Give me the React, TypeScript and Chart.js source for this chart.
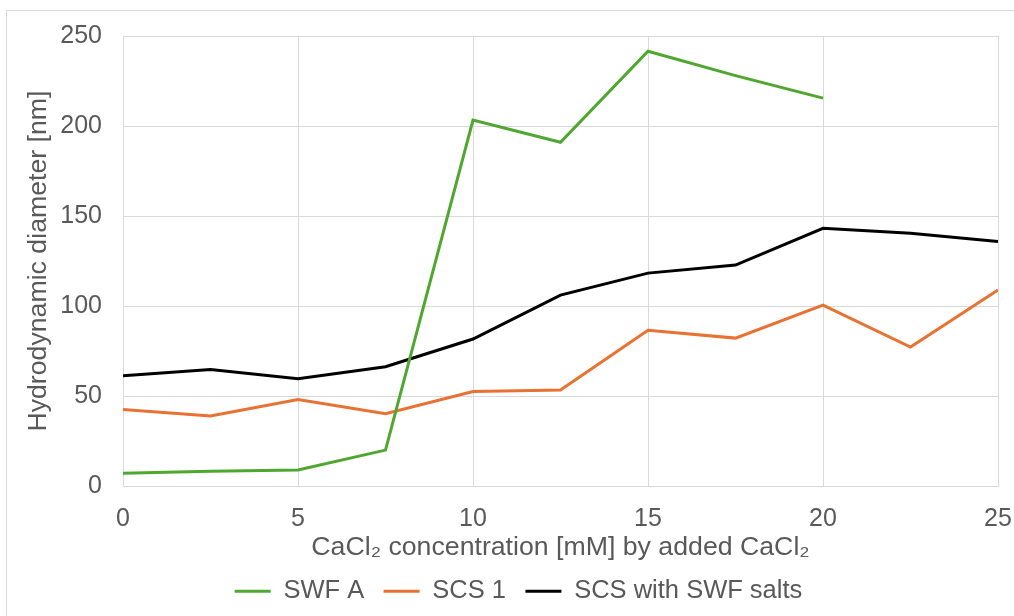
import React, { useEffect, useRef } from "react";
import { Chart, registerables } from "chart.js";

Chart.register(...registerables);

// CaCl2 added [mM]
const concentrations = [0, 2.5, 5, 7.5, 10, 12.5, 15, 17.5, 20, 22.5, 25];

// Hydrodynamic diameter [nm]
const swfA = [7.2, 8.2, 8.9, 20, 203.3, 191, 241.5, 228, 215.5, null, null];
const scs1 = [42.6, 38.9, 48.1, 40.2, 52.5, 53.4, 86.6, 82.2, 100.5, 77.2, 108.9];
const scsSwfSalts = [61.3, 64.8, 59.6, 66.3, 81.7, 106.1, 118.3, 122.8, 143.2, 140.5, 135.8];

const seriesNames = ["SWF A", "SCS 1", "SCS with SWF salts"];
const seriesColors = ["#4EA72E", "#E97132", "#000000"];

const xTitle = "CaCl\u2082 concentration [mM] by added CaCl\u2082";
const yTitle = "Hydrodynamic diameter [nm]";

const FONT = "'Liberation Sans', Arial, 'DejaVu Sans', sans-serif";
const TEXT_COLOR = "#595959";
const GRID_COLOR = "#d9d9d9";

function toPoints(values: (number | null)[]) {
  return concentrations.map((x, i) => ({ x, y: values[i] }));
}

export default function App() {
  const canvasRef = useRef<HTMLCanvasElement | null>(null);

  useEffect(() => {
    document.body.style.margin = "0";
    const canvas = canvasRef.current;
    if (!canvas) return;

    const allSeries = [swfA, scs1, scsSwfSalts];
    const chart = new Chart(canvas, {
      type: "line",
      data: {
        datasets: allSeries.map((values, i) => ({
          label: seriesNames[i],
          data: toPoints(values),
          borderColor: seriesColors[i],
          backgroundColor: seriesColors[i],
          borderWidth: 3,
          pointRadius: 0,
          tension: 0,
          spanGaps: false,
          fill: false,
        })),
      },
      options: {
        responsive: false,
        animation: false,
        layout: { padding: { top: 36, right: 0, bottom: 2, left: 23 } },
        plugins: {
          tooltip: { enabled: false },
          legend: {
            position: "bottom",
            labels: {
              font: { family: FONT, size: 25.5 },
              color: TEXT_COLOR,
              boxWidth: 36,
              boxHeight: 3,
              padding: 19.4,
              generateLabels: (c: any) =>
                c.data.datasets.map((ds: any, i: number) => ({
                  text: ds.label,
                  fillStyle: ds.borderColor,
                  strokeStyle: ds.borderColor,
                  lineWidth: 0,
                  hidden: false,
                  datasetIndex: i,
                  fontColor: TEXT_COLOR,
                })),
            },
          },
        },
        scales: {
          x: {
            type: "linear",
            min: 0,
            max: 25,
            ticks: {
              stepSize: 5,
              padding: 18,
              color: TEXT_COLOR,
              font: { family: FONT, size: 25 },
            },
            grid: { color: GRID_COLOR, lineWidth: 1, drawTicks: false },
            border: { display: true, color: GRID_COLOR },
            title: {
              display: true,
              text: xTitle,
              color: TEXT_COLOR,
              font: { family: FONT, size: 26.7 },
              padding: { top: 0, bottom: -5 },
            },
            afterFit: (scale: any) => {
              scale.height = 73;
              scale.paddingLeft = 0;
              scale.paddingRight = 16;
            },
          },
          y: {
            type: "linear",
            min: 0,
            max: 250,
            ticks: {
              stepSize: 50,
              padding: 21,
              color: TEXT_COLOR,
              font: { family: FONT, size: 25 },
            },
            grid: { color: GRID_COLOR, lineWidth: 1, drawTicks: false },
            border: { display: true, color: GRID_COLOR },
            title: {
              display: true,
              text: yTitle,
              color: TEXT_COLOR,
              font: { family: FONT, size: 26.7 },
              padding: { top: 0, bottom: 0 },
            },
            afterFit: (scale: any) => {
              scale.width = 100;
            },
          },
        },
      },
    });

    return () => chart.destroy();
  }, []);

  return (
    <div style={{ position: "relative", width: 1014, height: 616, background: "#ffffff", overflow: "hidden" }}>
      <div
        style={{
          position: "absolute",
          left: 6,
          top: 10,
          width: 1100,
          height: 700,
          borderLeft: `1px solid ${GRID_COLOR}`,
          borderTop: `1px solid ${GRID_COLOR}`,
        }}
      />
      <canvas
        ref={canvasRef}
        width={1014}
        height={616}
        style={{ position: "absolute", left: 0, top: 0, width: 1014, height: 616 }}
      />
    </div>
  );
}
